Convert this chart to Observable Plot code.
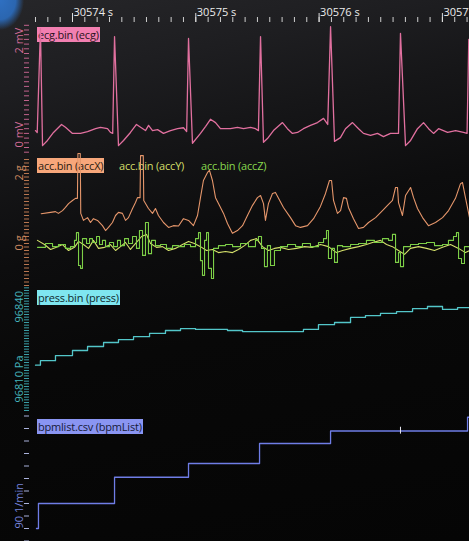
<!DOCTYPE html>
<html><head><meta charset="utf-8">
<script src="https://cdn.jsdelivr.net/npm/d3@7"></script>
<script src="https://cdn.jsdelivr.net/npm/@observablehq/plot@0.6"></script>
<style>
html,body{margin:0;padding:0;background:#060606;}
#wrap{position:relative;width:469px;height:541px;overflow:hidden;
background:
 radial-gradient(ellipse 24px 30px at 0 0,#2f70c2 0%,#2b66b0 65%,rgba(40,90,160,0) 100%),
 linear-gradient(168deg,#262629 0%,#1e1e21 14%,#161618 26%,#0d0d0e 42%,#080808 60%,#050505 100%);
font-family:"Open Sans","Noto Sans",sans-serif;}
.lab{position:absolute;font-size:11px;line-height:15px;height:15px;padding:0 1px;white-space:nowrap;z-index:0;letter-spacing:-0.2px}
.panel{position:absolute;left:0;z-index:1}
</style></head><body><div id="wrap"></div>
<script>
// ---- time axis (seconds) ----
const T0 = 30573;
const xDomain = [30573.6513, 30577.2198];
const xMajorTicks = [30574, 30575, 30576, 30577];

// ---- ecg (mV): [seconds after T0, value] ----
const ecg = [
 [0.700,0.36],[0.714,0.32],[0.740,2.53],[0.757,0.04],[0.797,0.15],[0.846,0.32],[0.911,0.49],[0.943,0.43],[1.000,0.30],[1.065,0.30],[1.122,0.34],[1.187,0.40],[1.227,0.43],[1.284,0.40],[1.308,0.32],[1.326,0.30],
 [1.341,2.36],[1.373,0.04],[1.414,0.15],[1.470,0.32],[1.519,0.49],[1.552,0.43],[1.592,0.36],[1.617,0.47],[1.649,0.36],[1.690,0.38],[1.738,0.30],[1.795,0.36],[1.852,0.40],[1.900,0.42],[1.926,0.34],
 [1.941,2.32],[1.973,0.09],[2.038,0.30],[2.080,0.45],[2.119,0.60],[2.160,0.53],[2.200,0.40],[2.281,0.40],[2.338,0.43],[2.387,0.40],[2.444,0.43],[2.484,0.40],[2.508,0.36],
 [2.525,2.36],[2.549,0.11],[2.581,0.19],[2.630,0.36],[2.703,0.53],[2.743,0.40],[2.784,0.30],[2.825,0.32],[2.873,0.40],[2.930,0.47],[2.987,0.53],[3.036,0.62],[3.070,0.49],
 [3.093,2.57],[3.125,0.13],[3.173,0.21],[3.214,0.40],[3.271,0.53],[3.320,0.40],[3.360,0.30],[3.417,0.26],[3.474,0.30],[3.522,0.23],[3.579,0.30],[3.644,0.30],
 [3.660,2.43],[3.701,0.04],[3.742,0.15],[3.798,0.40],[3.847,0.53],[3.888,0.40],[3.928,0.30],[3.969,0.40],[4.042,0.32],[4.107,0.36],[4.171,0.32],[4.200,0.30],[4.214,2.30]
];
const ecgTickLabels = [[2,"2 mV"],[0,"0 mV"]];

// ---- acc (g) ----
const accX = [
 [0.746,1.05],[0.822,1.09],[0.862,1.11],[0.886,1.06],[0.919,1.14],[0.943,1.23],[0.968,1.34],[1.000,1.43],[1.024,1.49],[1.040,1.49],[1.044,2.77],[1.063,2.77],[1.067,1.06],
 [1.089,0.86],[1.122,0.94],[1.146,0.80],[1.170,0.91],[1.203,0.86],[1.243,0.71],[1.268,0.57],[1.292,0.66],[1.324,0.80],[1.349,1.00],[1.373,1.09],[1.405,1.06],[1.430,0.86],
 [1.454,0.94],[1.487,1.20],[1.511,1.37],[1.527,1.51],[1.548,1.51],[1.552,2.71],[1.574,2.71],[1.578,1.43],[1.616,1.20],[1.649,1.06],[1.673,1.20],[1.697,1.00],[1.738,0.80],
 [1.779,0.66],[1.819,0.71],[1.860,0.70],[1.900,0.91],[1.941,0.86],[1.981,0.71],[2.014,1.00],[2.038,1.51],[2.062,2.00],[2.095,2.23],[2.111,2.29],[2.135,2.00],[2.160,1.51],
 [2.184,1.34],[2.225,1.06],[2.257,0.77],[2.297,0.49],[2.338,0.57],[2.379,0.71],[2.419,1.00],[2.460,1.29],[2.500,1.51],[2.525,1.57],[2.549,1.34],[2.565,0.86],[2.589,1.34],
 [2.622,1.63],[2.646,1.66],[2.671,1.49],[2.711,1.23],[2.768,0.94],[2.809,0.71],[2.849,0.66],[2.906,0.71],[2.955,0.91],[3.011,1.26],[3.052,1.63],[3.084,2.00],[3.101,2.00],
 [3.117,1.43],[3.149,1.06],[3.174,1.14],[3.198,1.51],[3.222,1.49],[3.238,1.23],[3.279,0.91],[3.320,0.63],[3.360,0.66],[3.401,0.80],[3.458,0.94],[3.514,1.14],[3.555,1.29],
 [3.595,1.43],[3.620,1.80],[3.636,1.80],[3.644,1.37],[3.676,1.00],[3.701,1.57],[3.742,1.80],[3.766,1.51],[3.798,1.20],[3.839,0.94],[3.887,0.71],[3.944,0.80],[4.001,0.94],
 [4.050,1.14],[4.106,1.49],[4.147,1.91],[4.163,1.94],[4.187,1.51],[4.220,0.94]
];
const accY = [
 [0.716,0.29],[0.773,0.17],[0.822,0.03],[0.870,0.09],[0.919,0.17],[0.968,0.00],[1.016,0.09],[1.049,0.26],[1.089,0.17],[1.130,0.06],[1.170,0.29],[1.211,0.06],[1.260,0.09],
 [1.308,0.17],[1.349,0.00],[1.389,0.11],[1.430,0.23],[1.470,0.03],[1.519,0.23],[1.560,0.40],[1.600,0.46],[1.633,0.20],[1.681,0.09],[1.730,0.11],[1.779,0.00],[1.835,0.06],
 [1.892,0.17],[1.941,0.26],[1.989,0.20],[2.038,0.11],[2.087,0.00],[2.135,0.03],[2.184,-0.06],[2.241,-0.03],[2.298,-0.06],[2.346,0.03],[2.395,0.14],[2.444,0.29],[2.492,0.34],
 [2.541,0.11],[2.590,0.00],[2.638,0.06],[2.687,0.09],[2.752,0.03],[2.817,0.06],[2.882,0.11],[2.946,0.09],[3.011,0.17],[3.076,0.11],[3.141,-0.06],[3.190,0.00],[3.255,0.06],
 [3.320,0.11],[3.384,0.17],[3.433,0.23],[3.498,0.29],[3.547,0.17],[3.595,0.11],[3.644,0.00],[3.693,-0.11],[3.741,0.06],[3.806,0.11],[3.871,0.06],[3.936,0.00],[4.001,0.09],
 [4.066,0.17],[4.131,0.06],[4.187,-0.06],[4.220,0.00]
];
const accZ = [
 [0.716,0.09],[0.781,0.20],[0.838,0.11],[0.886,0.17],[0.943,0.06],[0.984,0.11],[1.016,0.29],[1.032,0.51],[1.049,-0.43],[1.065,-0.51],[1.081,0.34],[1.114,0.20],[1.138,0.34],
 [1.162,0.23],[1.195,0.40],[1.219,0.17],[1.243,0.29],[1.268,0.11],[1.300,0.23],[1.333,0.11],[1.365,0.29],[1.389,0.14],[1.422,0.34],[1.454,0.20],[1.487,0.40],[1.519,0.06],
 [1.543,0.57],[1.568,-0.14],[1.592,0.80],[1.616,-0.09],[1.641,0.29],[1.673,0.14],[1.714,0.17],[1.762,0.06],[1.811,0.14],[1.860,0.11],[1.908,0.17],[1.957,0.11],[1.998,0.34],
 [2.022,0.51],[2.038,-0.29],[2.054,-0.71],[2.071,0.29],[2.087,0.51],[2.103,-0.51],[2.127,-0.80],[2.144,0.06],[2.184,0.14],[2.241,0.17],[2.298,0.11],[2.363,0.20],[2.427,0.11],
 [2.484,0.29],[2.508,0.40],[2.533,0.06],[2.557,-0.46],[2.581,0.14],[2.606,-0.43],[2.638,0.00],[2.687,0.11],[2.744,0.17],[2.809,0.11],[2.865,0.20],[2.930,0.11],[2.995,0.23],
 [3.036,0.34],[3.060,0.57],[3.076,-0.23],[3.101,0.06],[3.125,-0.34],[3.149,0.14],[3.190,0.11],[3.255,0.17],[3.320,0.20],[3.384,0.29],[3.449,0.23],[3.514,0.34],[3.563,0.29],
 [3.595,0.46],[3.620,-0.34],[3.644,-0.06],[3.660,-0.46],[3.685,0.11],[3.741,0.17],[3.806,0.20],[3.871,0.23],[3.936,0.14],[4.001,0.17],[4.049,0.29],[4.090,0.40],[4.114,0.51],
 [4.131,-0.23],[4.155,-0.37],[4.179,0.11],[4.220,0.17]
];
const accTickLabels = [[2,"2 g"],[0,"0 g"]];

// ---- pressure (Pa) ----
const press = [
 [0.700,96824],[0.740,96825.7],[0.862,96827.6],[1.000,96829.5],[1.122,96831],[1.252,96832.5],[1.373,96833.6],[1.495,96834.7],[1.625,96835.9],[1.754,96837],
 [1.876,96837.7],[1.998,96837.4],[2.257,96837],[2.379,96836.6],[2.873,96837.4],[2.995,96839.2],[3.125,96840],[3.255,96841.9],[3.376,96842.6],[3.498,96843.4],
 [3.628,96844.1],[3.758,96845.2],[3.879,96846],[4.001,96844.9],[4.123,96845.6],[4.220,96845.6]
];
const pressTickLabels = [[96840,"96840"],[96810,"96810 Pa"]];

// ---- heart rate (1/min) ----
const bpm = [[0.708,90],[0.724,92],[1.341,94.1],[1.941,95.2],[2.517,96.8],[3.093,97.8],[3.660,97.8],[4.204,98.9],[4.220,98.9]];
const bpmMarks = [[3.660,97.8]];
const bpmTickLabels = [[90,"90 1/min"]];

// ---- series names ----
const labels = [
 {text:"ecg.bin (ecg)", top:27, left:37, bg:"#f27fb1", fg:"#2a1420"},
 {text:"acc.bin (accX)", top:158, left:37, bg:"#f7a77b", fg:"#2a1a10"},
 {text:"acc.bin (accY)", top:158, left:118, bg:"transparent", fg:"#d2df68"},
 {text:"acc.bin (accZ)", top:158, left:200, bg:"transparent", fg:"#88d84e"},
 {text:"press.bin (press)", top:290, left:37, bg:"#7fe6f0", fg:"#10282c"},
 {text:"bpmlist.csv (bpmList)", top:419, left:37, bg:"#8a95f2", fg:"#161a3a"}
];

const wrap = document.getElementById("wrap");
for (const l of labels) {
  const s = document.createElement("span");
  s.className = "lab"; s.textContent = l.text;
  s.style.top = l.top + "px"; s.style.left = l.left + "px";
  s.style.background = l.bg; s.style.color = l.fg;
  wrap.appendChild(s);
}

const rows = a => a.map(([t, v]) => ({t: T0 + t, v}));
const W = 469;
function panel(top, height, marginTop, yScale, marks) {
  const svg = Plot.plot({
    width: W, height,
    marginTop, marginLeft: 29, marginRight: 0, marginBottom: 0,
    x: {domain: xDomain, range: [29, 469], axis: null, label: null},
    y: {...yScale, axis: null, label: null},
    style: {background: "transparent", fontFamily: "Open Sans, Noto Sans, sans-serif", fontSize: "11px", color: "#e6e6e6", overflow: "visible"},
    marks
  });
  svg.classList.add("panel");
  svg.style.top = top + "px";
  svg.style.position = "absolute";
  wrap.appendChild(svg);
}
function yLabels(arr, color) {
  return Plot.text(arr, {y: d => d[0], text: d => d[1], frameAnchor: "left", dx: -10, rotate: -90,
    textAnchor: "start", lineAnchor: "middle", fill: color, fontSize: 11});
}
function yTicks(ticks, color) {
  return Plot.axisY(ticks, {anchor: "left", tickSize: 5, tickFormat: () => "", label: null, stroke: color, strokeWidth: 1});
}

const xMinor = d3.range(30573.7, 30577.25, 0.1);

// ECG panel with time axis
panel(0, 153, 21, {domain: [0, 2], range: [147, 53]}, [
  Plot.axisX(xMinor, {anchor: "top", tickSize: 5, tickFormat: () => "", label: null, stroke: "#cfcfcf"}),
  Plot.axisX(xMajorTicks, {anchor: "top", tickSize: 9, tickFormat: () => "", label: null, stroke: "#e0e0e0"}),
  Plot.text(xMajorTicks, {x: d => d, text: d => `${d} s`, frameAnchor: "top", dy: -6, dx: 1, textAnchor: "start", lineAnchor: "bottom", fill: "#ececec", fontSize: 11}),
  yTicks(d3.range(-1, 27).map(i => i / 10), "#c0628c"),
  yLabels(ecgTickLabels, "#d46c98"),
  Plot.line(rows(ecg), {x: "t", y: "v", stroke: "#e1709f", strokeWidth: 1.3})
]);

// ACC panel
panel(153, 132, 0, {domain: [0, 2], range: [97, 27]}, [
  yTicks(d3.range(-10, 27).map(i => i / 10), "#b87650"),
  yLabels(accTickLabels, "#cf8a60"),
  Plot.line(rows(accX), {x: "t", y: "v", stroke: "#e5966b", strokeWidth: 1.1}),
  Plot.line(rows(accY), {x: "t", y: "v", stroke: "#d3df6a", strokeWidth: 1.1}),
  Plot.line(rows(accZ), {x: "t", y: "v", curve: "step-after", stroke: "#7dcf47", strokeWidth: 1.1})
]);

// Pressure panel
panel(285, 125, 0, {domain: [96810, 96840], range: [117, 37]}, [
  yTicks(d3.range(96807, 96854), "#3a9ea6"),
  yLabels(pressTickLabels, "#45b4bc"),
  Plot.line(rows(press), {x: "t", y: "v", curve: "step-after", stroke: "#53c6c9", strokeWidth: 1.3})
]);

// Heart-rate panel
panel(410, 131, 0, {domain: [90, 91], range: [118, 105.5]}, [
  yTicks(d3.range(89, 100), "#aab2dc"),
  yLabels(bpmTickLabels, "#7684dc"),
  Plot.line(rows(bpm), {x: "t", y: "v", curve: "step-after", stroke: "#6f7de6", strokeWidth: 1.3}),
  Plot.ruleX(rows(bpmMarks), {x: "t", y1: d => d.v - 0.25, y2: d => d.v + 0.3, stroke: "#e8e8f0", strokeWidth: 1})
]);
</script></body></html>
